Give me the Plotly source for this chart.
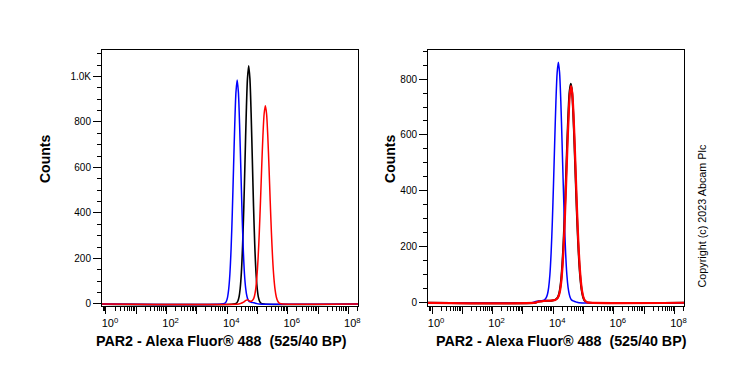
import numpy as np
import plotly.graph_objects as go

# ---------------- data (x positions are log10 of fluorescence) ----------------
# Left panel
left_blue_log10 = [-0.5, 3.80, 3.93, 3.97, 4.01, 4.05, 4.09, 4.13, 4.17, 4.21, 4.25, 4.29,
                   4.33, 4.37, 4.41, 4.45, 4.49, 4.53, 4.57, 4.61, 4.65, 4.69, 4.73,
                   4.81, 4.89, 4.97, 5.05, 8.5]
left_blue_counts = [0, 0, 4, 11, 28, 65, 133, 245, 404, 597, 788, 931,
                    984, 931, 788, 597, 404, 245, 133, 70, 35, 18, 10,
                    7, 5, 2, 0, 0]

left_black_log10 = [-0.5, 4.20, 4.31, 4.35, 4.39, 4.43, 4.47, 4.51, 4.55, 4.59, 4.63, 4.67,
                    4.71, 4.75, 4.79, 4.83, 4.87, 4.91, 4.95, 4.99, 5.03, 5.07, 5.11,
                    5.22, 8.5]
left_black_counts = [0, 0, 4, 12, 30, 69, 141, 261, 430, 636, 839, 990,
                     1047, 990, 839, 636, 430, 261, 141, 69, 30, 12, 4,
                     0, 0]

left_red_log10 = [-0.5, 4.38, 4.46, 4.54, 4.62, 4.68, 4.74, 4.80,
                  4.86, 4.90, 4.94, 4.98, 5.02, 5.06, 5.10, 5.14, 5.18, 5.22,
                  5.26, 5.30, 5.34, 5.38, 5.42, 5.46, 5.50, 5.54, 5.58, 5.62,
                  5.66, 5.70, 5.74, 5.84, 8.5]
left_red_counts = [0, 0, 3, 8, 16, 18, 13, 12,
                   20, 34, 64, 118, 200, 314, 453, 604, 739, 836,
                   871, 836, 739, 604, 453, 314, 200, 118, 64, 32,
                   15, 6, 2, 0, 0]

# Right panel
right_blue_log10 = [-0.5, 3.30, 3.38, 3.46, 3.54, 3.62, 3.69,
                    3.73, 3.77, 3.81, 3.85, 3.89, 3.93, 3.97, 4.01, 4.05, 4.09, 4.13,
                    4.17, 4.21, 4.25, 4.29, 4.33, 4.37, 4.41, 4.45, 4.49, 4.53, 4.57, 4.61,
                    4.69, 4.77, 4.85, 8.5]
right_blue_counts = [0, 0, 3, 5, 6, 7, 9,
                     12, 18, 30, 55, 100, 177, 287, 427, 580, 722, 823,
                     860, 823, 722, 580, 427, 287, 177, 100, 55, 30, 16, 9,
                     5, 2, 0, 0]

right_black_log10 = [-0.5, 3.40, 3.48, 3.58, 3.68, 3.78, 3.88, 3.98,
                     4.06, 4.10, 4.14, 4.18, 4.22, 4.26, 4.30, 4.34, 4.38, 4.42,
                     4.46, 4.50, 4.54, 4.58, 4.62, 4.66, 4.70, 4.74, 4.78, 4.82,
                     4.86, 4.90, 4.94, 4.98, 5.02, 5.06, 5.10, 5.18, 8.5]
right_black_counts = [0, 0, 3, 5, 6, 7, 7, 8,
                      10, 13, 17, 27, 47, 81, 137, 218, 322, 443,
                      568, 679, 756, 783, 756, 679, 568, 443, 322, 218,
                      137, 81, 44, 22, 10, 5, 2, 0, 0]

right_red_log10 = [-0.5, 3.40, 3.48, 3.58, 3.68, 3.78, 3.88, 3.98,
                   4.07, 4.11, 4.15, 4.19, 4.23, 4.27, 4.31, 4.35, 4.39, 4.43,
                   4.47, 4.51, 4.55, 4.59, 4.63, 4.67, 4.71, 4.75, 4.79, 4.83,
                   4.87, 4.91, 4.95, 4.99, 5.03, 5.07, 5.11, 5.19, 8.5]
right_red_counts = [0, 0, 3, 5, 6, 7, 7, 8,
                    10, 13, 17, 27, 46, 80, 136, 215, 319, 439,
                    563, 672, 748, 775, 748, 672, 563, 439, 319, 215,
                    136, 80, 43, 22, 10, 5, 2, 0, 0]

x_decades = [0, 1, 2, 3, 4, 5, 6, 7, 8]
x_ticktext = ["10<sup>0</sup>", "", "10<sup>2</sup>", "", "10<sup>4</sup>", "",
              "10<sup>6</sup>", "", "10<sup>8</sup>"]
left_yticks = [0, 200, 400, 600, 800, 1000]
left_yticktext = ["0", "200", "400", "600", "800", "1.0K"]
right_yticks = [0, 200, 400, 600, 800]
right_yticktext = ["0", "200", "400", "600", "800"]

x_title = "PAR2 - Alexa Fluor® 488\u00a0\u00a0(525/40 BP)"
y_title = "Counts"
copyright_text = "Copyright (c) 2023 Abcam Plc"

# ---------------- figure ----------------
FONT = "Liberation Sans, Arial, sans-serif"
fig = go.Figure()


def add(xlog, counts, color, width, xa, ya):
    fig.add_trace(go.Scatter(
        x=np.power(10.0, np.array(xlog)), y=counts, mode="lines",
        line=dict(color=color, width=width, shape="spline", smoothing=0.8),
        xaxis=xa, yaxis=ya, showlegend=False, hoverinfo="skip"))


add(left_black_log10, left_black_counts, "#000000", 1.6, "x", "y")
add(left_blue_log10, left_blue_counts, "#0000ff", 1.5, "x", "y")
add(left_red_log10, left_red_counts, "#ff0000", 1.5, "x", "y")

add(right_black_log10, right_black_counts, "#000000", 2.0, "x2", "y2")
add(right_blue_log10, right_blue_counts, "#0000ff", 1.5, "x2", "y2")
add(right_red_log10, right_red_counts, "#ff0000", 2.2, "x2", "y2")

minor_vals = [m * 10.0 ** d for d in range(-1, 9) for m in range(2, 10)]
xvals = [10.0 ** d for d in x_decades]

xcommon = dict(
    type="log", range=[-0.132, 8.317], showline=True, mirror=True,
    linecolor="black", linewidth=1, ticks="outside", ticklen=7, tickwidth=1,
    tickcolor="black", tickmode="array", tickvals=xvals, ticktext=x_ticktext,
    tickfont=dict(family=FONT, size=11, color="black"), ticklabelshift=4,
    minor=dict(tickmode="array", tickvals=minor_vals, ticks="outside",
               ticklen=4, tickwidth=1, tickcolor="black", showgrid=False),
    showgrid=False, zeroline=False, fixedrange=True, automargin=False)

ycommon = dict(
    showline=True, mirror=True, linecolor="black", linewidth=1,
    ticks="outside", ticklen=8, tickwidth=1, tickcolor="black",
    tickfont=dict(family=FONT, size=10, color="black"), tickmode="array",
    minor=dict(dtick=50, ticks="outside", ticklen=4, tickwidth=1,
               tickcolor="black", showgrid=False),
    showgrid=False, zeroline=False, fixedrange=True, automargin=False,
    domain=[0.1730, 0.8649])

fig.update_layout(
    width=739, height=370, margin=dict(l=0, r=0, t=0, b=0, autoexpand=False),
    paper_bgcolor="white", plot_bgcolor="white", showlegend=False,
    xaxis=dict(xcommon, domain=[0.1380, 0.4844], anchor="y"),
    xaxis2=dict(xcommon, domain=[0.5792, 0.9256], anchor="y2"),
    yaxis=dict(ycommon, range=[-8.8, 1116], tickvals=left_yticks,
               ticktext=left_yticktext, anchor="x"),
    yaxis2=dict(ycommon, range=[-11.8, 904], tickvals=right_yticks,
                ticktext=right_yticktext, anchor="x2"),
)

ann = []
for cx in (0.2997, 0.7598):
    ann.append(dict(text="<b>" + x_title + "</b>", x=cx, y=0.0784, xref="paper",
                    yref="paper", showarrow=False, xanchor="center", yanchor="middle",
                    font=dict(family=FONT, size=14.3, color="black")))
for cx in (0.0609, 0.5277):
    ann.append(dict(text="<b>" + y_title + "</b>", x=cx, y=0.5703, xref="paper",
                    yref="paper", showarrow=False, xanchor="center", yanchor="middle",
                    textangle=-90, font=dict(family=FONT, size=14, color="black")))
ann.append(dict(text=copyright_text, x=0.9493, y=0.4162, xref="paper", yref="paper",
                showarrow=False, xanchor="center", yanchor="middle", textangle=-90,
                font=dict(family=FONT, size=10.8, color="black")))
fig.update_layout(annotations=ann)

fig.write_html("out.html", config={"displayModeBar": False},
               post_script="document.body.style.margin='0';document.body.style.padding='0';")
